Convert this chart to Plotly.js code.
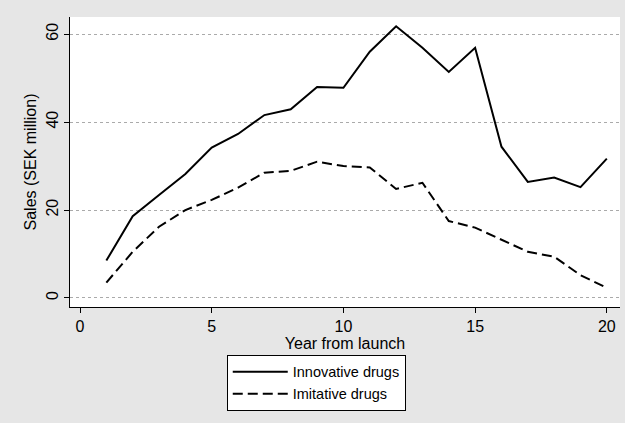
<!DOCTYPE html>
<html>
<head>
<meta charset="utf-8">
<script src="https://cdn.plot.ly/plotly-3.0.1.min.js"></script>
<style>html,body{margin:0;padding:0;background:#e6e6e6;}#chart{width:625px;height:423px;}</style>
</head>
<body>
<div id="chart"></div>
<script>
const years = [1,2,3,4,5,6,7,8,9,10,11,12,13,14,15,16,17,18,19,20];
const innovative = [8.5,18.6,23.4,28.2,34.2,37.3,41.6,42.9,48.0,47.8,56.0,61.8,56.9,51.4,56.9,34.4,26.4,27.4,25.2,31.7];
const imitative = [3.5,10.5,16.2,20.0,22.3,25.1,28.5,28.9,31.0,30.0,29.7,24.8,26.2,17.5,16.0,13.2,10.5,9.4,5.2,2.3];
const seriesNames = ["Innovative drugs","Imitative drugs"];
const xTicks = [0,5,10,15,20];
const yTicks = [0,20,40,60];

const font = {family: "Liberation Sans, Arial, sans-serif", color: "#000", size: 15};
const traces = [
  {x: years, y: innovative, name: seriesNames[0], mode: "lines", type: "scatter",
   line: {color: "#000", width: 2, dash: "solid"}},
  {x: years, y: imitative, name: seriesNames[1], mode: "lines", type: "scatter",
   line: {color: "#000", width: 2, dash: "10px,5px"}}
];
const layout = {
  width: 625, height: 423,
  paper_bgcolor: "#e6e6e6", plot_bgcolor: "#ffffff",
  margin: {l: 70, r: 5, t: 17, b: 116},
  font: font,
  showlegend: true,
  xaxis: {
    range: [-0.38, 20.5], tickvals: xTicks, ticktext: xTicks.map(String),
    showgrid: false, zeroline: false, showline: true, linecolor: "#000", linewidth: 1,
    ticks: "outside", ticklen: 5, tickcolor: "#000",
    tickfont: {size: 16},
    title: {text: "Year from launch", font: {size: 16}, standoff: 0}
  },
  yaxis: {
    range: [-2.05, 63.9], tickvals: yTicks, ticktext: yTicks.map(String),
    tickangle: -90,
    showgrid: true, gridcolor: "#aaa", griddash: "dot", gridwidth: 1,
    zeroline: false, showline: true, linecolor: "#000", linewidth: 1,
    ticks: "outside", ticklen: 5, tickcolor: "#000",
    tickfont: {size: 16},
    title: {text: "Sales (SEK million)", font: {size: 16}, standoff: 2}
  },
  legend: {
    x: 0.285, y: -0.165, xanchor: "left", yanchor: "top",
    orientation: "v", bgcolor: "#fff", bordercolor: "#000", borderwidth: 1,
    itemwidth: 55, font: {size: 14.5}, tracegroupgap: 0
  }
};
Plotly.newPlot("chart", traces, layout, {displayModeBar: false, staticPlot: true});
</script>
</body>
</html>
